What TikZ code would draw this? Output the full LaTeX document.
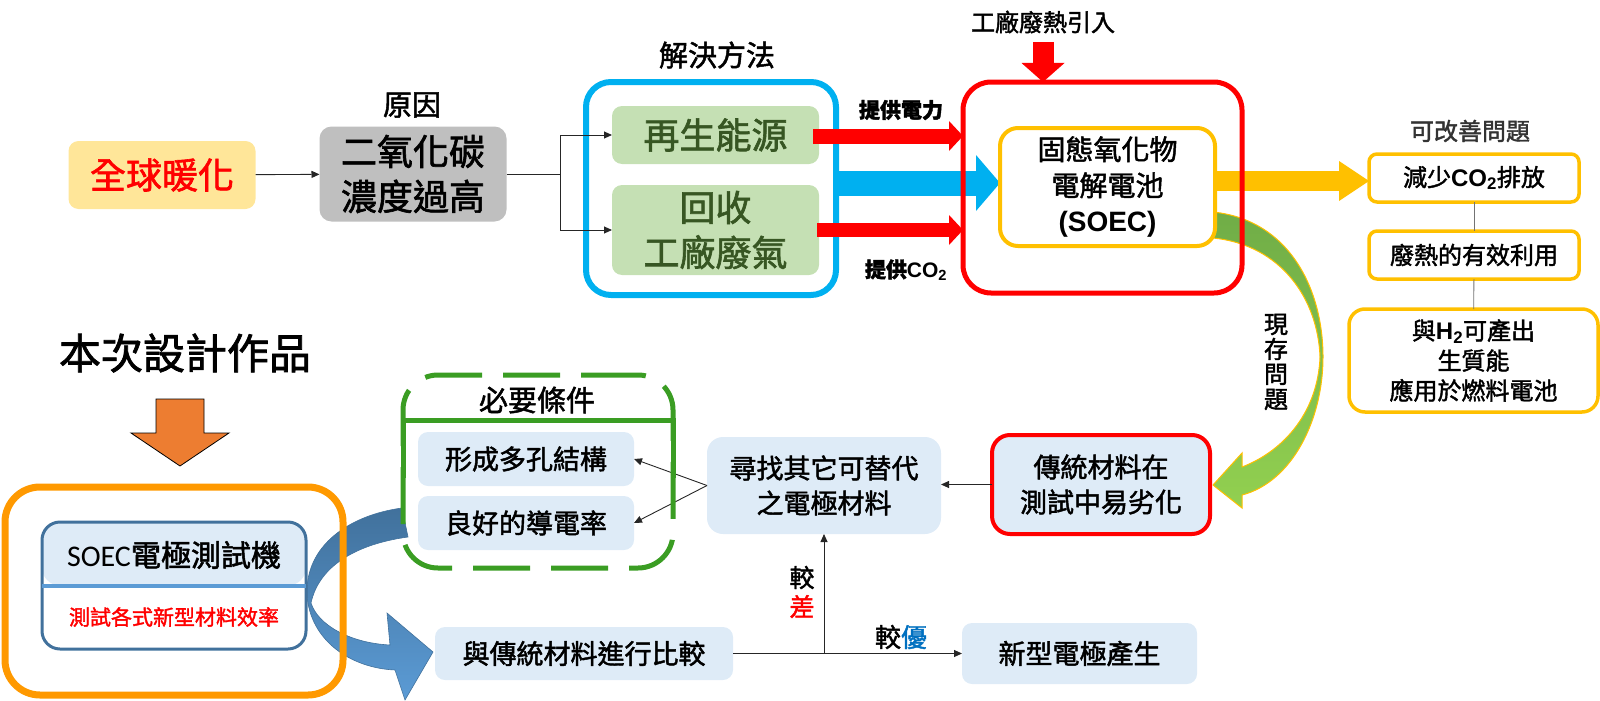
\documentclass[tikz,border=0pt]{standalone}
\usepackage{fontspec}
\setmainfont{Noto Sans CJK TC}[RawFeature={embolden=1.7}]
\newfontfamily\arialfont{Liberation Sans}
\newfontfamily\calibrifont{Carlito}
\usepackage{tikz}
\definecolor{WarmYellow}{HTML}{FFE699}
\definecolor{CauseGray}{HTML}{BFBFBF}
\definecolor{SkyBlue}{HTML}{00B0F0}
\definecolor{LeafGreen}{HTML}{C5E0B4}
\definecolor{LeafText}{HTML}{375623}
\definecolor{Amber}{HTML}{FFC000}
\definecolor{PaleBlue}{HTML}{DEEBF7}
\definecolor{OrangeArrow}{HTML}{ED7D31}
\definecolor{OrangeFrame}{HTML}{FF9900}
\definecolor{SteelEdge}{HTML}{41719C}
\definecolor{DividerBlue}{HTML}{5B9BD5}
\definecolor{DashGreen}{HTML}{3A9D23}
\definecolor{GreenDark}{HTML}{70AD47}
\definecolor{GreenLight}{HTML}{92D050}
\definecolor{BetterBlue}{HTML}{0070C0}
\usetikzlibrary{arrows.meta,positioning,calc,backgrounds,shapes}

\begin{document}
\begin{tikzpicture}[x=1pt, y=-1pt,
softbox/.style={
	rounded corners=10pt,
	inner sep=0pt,
	outer sep=0pt,
	align=center
},
frame/.style={
	inner sep=0pt,
	outer sep=0pt
},
leafbox/.style={
	softbox,
	fill=LeafGreen,
	text=LeafText,
	minimum width=207pt,
	font=\fontsize{36}{45}\selectfont
},
amberbox/.style={
	softbox,
	draw=Amber,
	line width=3.5pt,
	fill=white,
	font=\fontsize{24}{30}\selectfont
},
lightbox/.style={
	softbox,
	fill=PaleBlue,
	font=\fontsize{27}{35}\selectfont
},
caption/.style={
	inner sep=0pt,
	font=\fontsize{29}{34}\selectfont
},
thinarrow/.style={
	draw=black!85,
	line width=0.9pt,
	-{Triangle[length=8pt,width=7pt]}
},
]
\useasboundingbox (0,0) rectangle (1600,701);

% upper row
\node[softbox, fill=WarmYellow, text=red, minimum width=187pt, minimum height=68pt, font=\fontsize{36}{45}\selectfont] (warm) at (162,175) {全球暖化};
\node[softbox, fill=CauseGray, rounded corners=12pt, minimum width=187pt, minimum height=95pt, font=\fontsize{36}{45}\selectfont] (co2) at (413,174) {二氧化碳\\濃度過高};
\node[caption] (causeLbl) at (412,105) {原因};

\node[frame, draw=SkyBlue, line width=6pt, rounded corners=25pt, minimum width=250pt, minimum height=213pt] (solution) at (711,188.5) {};
\node[caption] (solutionLbl) at (717,55) {解決方法};
\node[leafbox, minimum height=58pt] (renew) at (715.5,135) {再生能源};
\node[leafbox, minimum height=90pt] (waste) at (715.5,230) {回收\\工廠廢氣};

\draw[thinarrow] (warm) -- (co2);
\coordinate (fork) at ($(co2.east)+(54,0)$);
\draw[black!85, line width=0.9pt] (co2.east) -- (fork);
\draw[thinarrow] (fork) |- (renew.west);
\draw[thinarrow] (fork) |- (waste.west);

\node[frame, minimum width=279pt, minimum height=211pt] (cellFrame) at (1102.5,187.5) {};
\node[softbox, draw=Amber, line width=4pt, fill=white, rounded corners=18pt, minimum width=215pt, minimum height=118pt, font=\fontsize{28}{36}\selectfont] (soec) at (1107.5,187) {固態氧化物\\電解電池\\{\arialfont\bfseries (SOEC)}};
\node[font=\fontsize{24}{30}\selectfont] (heatLbl) at (1043,22) {工廠廢熱引入};
\node[font=\bfseries\fontsize{21}{26}\selectfont] (powerLbl) at (901,110) {提供電力};
\node[font=\bfseries\fontsize{21}{26}\selectfont] (gasLbl) at (906,270) {提供{\arialfont\bfseries CO\textsubscript{2}}};

\draw[line width=15pt, red, -{Triangle[length=14pt,width=30pt,line width=0pt]}] ($(renew.east)+(-6,1)$) -- ($(renew.east -| cellFrame.west)+(0,1)$);
\draw[line width=14pt, red, -{Triangle[length=14pt,width=30pt,line width=0pt]}] ($(waste.east)+(-2,0)$) -- (waste.east -| cellFrame.west);
\coordinate (heatIn) at (1043,42);
\draw[line width=21pt, red, -{Triangle[length=19pt,width=43pt,line width=0pt]}] (heatIn) -- (heatIn |- cellFrame.north);

% right column
\node[caption, text=black!80, font=\fontsize{24}{30}\selectfont] (betterLbl) at (1470,131) {可改善問題};
\node[amberbox, rounded corners=8pt, minimum width=210pt, minimum height=48pt] (reduce) at (1474,178) {減少{\arialfont\bfseries CO\textsubscript{2}}排放};
\node[amberbox, rounded corners=8pt, minimum width=210pt, minimum height=48pt] (reuse) at (1474,255) {廢熱的有效利用};
\node[amberbox, rounded corners=16pt, minimum width=249pt, minimum height=103pt] (hydro) at (1473.5,360.5) {與{\arialfont\bfseries H\textsubscript{2}}可產出\\生質能\\應用於燃料電池};
\draw[black!55, line width=0.8pt] (reduce) -- (reuse);
\draw[black!55, line width=0.8pt] (reuse) -- (hydro);
\node[align=center, font=\fontsize{24}{25}\selectfont] (issueLbl) at (1276,362) {現\\存\\問\\題};

% lower part
\node[font=\fontsize{42}{50}\selectfont] (workLbl) at (185,353) {本次設計作品};
\filldraw[fill=OrangeArrow, draw=black, line width=0.8pt] (156,399) -- (204,399) -- (204,433) -- (229,433) -- (180,466) -- (131,433) -- (156,433) -- cycle;

\node[frame, draw=SteelEdge, line width=3pt, fill=white, rounded corners=18pt, minimum width=264pt, minimum height=127pt,
	path picture={\fill[PaleBlue] (path picture bounding box.north west) rectangle (path picture bounding box.east);}] (tester) at (174,585.5) {};
\draw[DividerBlue, line width=4pt] (tester.west) -- (tester.east);
\node[font=\fontsize{30}{36}\selectfont] (testerTitle) at (174,555) {{\calibrifont SOEC}電極測試機};
\node[text=red, font=\fontsize{21}{26}\selectfont] (testerNote) at (174,617) {測試各式新型材料效率};

\node[lightbox, minimum width=216pt, minimum height=54pt] (porous) at (526,459) {形成多孔結構};
\node[lightbox, minimum width=216pt, minimum height=54pt] (conduct) at (526,523) {良好的導電率};
\node[caption] (needLbl) at (537,400) {必要條件};

\node[lightbox, rounded corners=16pt, minimum width=234pt, minimum height=97pt] (search) at (824,485.5) {尋找其它可替代\\之電極材料};
\node[lightbox, draw=red, line width=4pt, rounded corners=18pt, minimum width=218pt, minimum height=99pt] (degrade) at (1101,484.5) {傳統材料在\\測試中易劣化};
\node[lightbox, minimum width=298pt, minimum height=53pt] (compare) at (584,653.5) {與傳統材料進行比較};
\node[lightbox, minimum width=235pt, minimum height=61pt] (newElec) at (1079.5,653.5) {新型電極產生};

\draw[thinarrow] (degrade.west) -- (search.east |- degrade.west);
\draw[thinarrow] (search.west) -- (porous.east);
\draw[thinarrow] (search.west) -- (conduct.east);
\draw[thinarrow] (compare.east) -- (newElec.west |- compare.east);
\coordinate (split) at (search.south |- compare.east);
\draw[thinarrow] (split) -- (search.south);
\node[font=\fontsize{25}{29}\selectfont, align=center] (worseLbl) at (802,592) {較\\\textcolor{red}{差}};
\node[font=\fontsize{26}{30}\selectfont] (betterLbl2) at (901,637) {較\textcolor{BetterBlue}{優}};

\begin{scope}[on background layer]
\draw[line width=25pt, SkyBlue, -{Triangle[length=24pt,width=56pt,line width=0pt]}] (solution.east |- 0,183) -- (soec.west |- 0,183);
\draw[line width=20pt, Amber, -{Triangle[length=30pt,width=40pt,line width=0pt]}] (soec.east |- 0,181) -- (reduce.west |- 0,181);
% current issue
\shade[top color=GreenDark, bottom color=GreenLight, draw=Amber, line width=1pt]
	(1213,212) .. controls (1290,220) and (1323,290) .. (1323,357)
	.. controls (1323,420) and (1292,482) .. (1242,495) -- (1242,508) -- (1213,485) -- (1242,453) -- (1242,467)
	.. controls (1286,450) and (1318,410) .. (1320,357)
	.. controls (1318,300) and (1282,245) .. (1213,238) -- cycle;
% testing loop
\shade[top color=SteelEdge, bottom color=DividerBlue, draw=SteelEdge, line width=0.6pt]
	(402,508) .. controls (350,515) and (305,545) .. (307,595)
	.. controls (310,640) and (350,668) .. (395,670) -- (405,700) -- (433,652) -- (387,613) -- (390,645)
	.. controls (350,643) and (318,625) .. (311,603)
	.. controls (318,570) and (350,545) .. (408,537) -- cycle;
\end{scope}

% frames on top
\draw[red, line width=5pt, rounded corners=28pt] (cellFrame.north west) rectangle (cellFrame.south east);
\node[frame, draw=OrangeFrame, line width=7pt, rounded corners=35pt, minimum width=338pt, minimum height=208pt] (workFrame) at (174,591) {};
\node[frame, draw=DashGreen, line width=5pt, rounded corners=35pt, dash pattern=on 57pt off 21pt, minimum width=270pt, minimum height=193pt] (needFrame) at (538,471.5) {};
\draw[DashGreen, line width=5pt] (needFrame.west |- 0,478) -- (needFrame.west |- 0,420) -- (needFrame.east |- 0,420) -- (needFrame.east |- 0,478);

\end{tikzpicture}
\end{document}
